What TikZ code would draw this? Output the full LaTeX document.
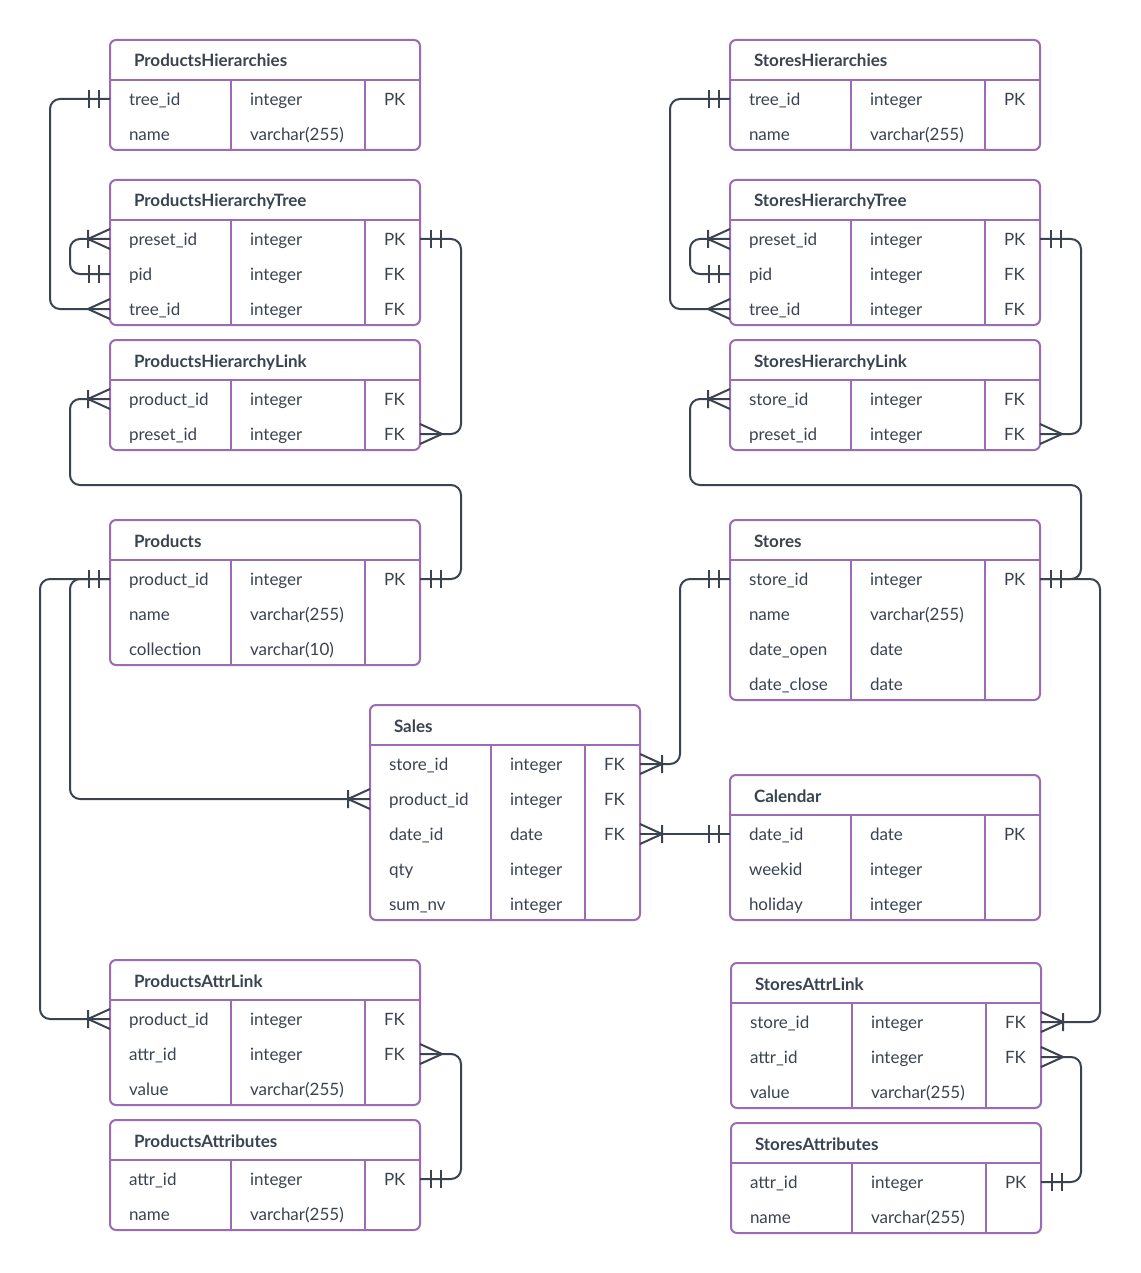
\documentclass[tikz,border=0pt]{standalone}
\usepackage{fontspec}
\setmainfont{Lato}
\definecolor{erpurple}{HTML}{9B6BB4}
\definecolor{erline}{HTML}{3A4350}
\definecolor{ertext}{HTML}{3A4350}
\tikzset{
  tbl/.style={draw=erpurple, line width=2pt, rounded corners=6pt, inner sep=0pt, outer sep=0pt, fill=white},
  tblline/.style={draw=erpurple, line width=2pt},
  rowbox/.style={inner sep=0pt, outer sep=0pt, minimum height=35pt},
  cell/.style={inner sep=0pt, outer sep=0pt, text=ertext, font=\fontsize{17}{20}\selectfont, anchor=base west},
  ttl/.style={cell, font=\fontsize{17}{20}\selectfont\bfseries},
  conn/.style={draw=erline, line width=2pt, rounded corners=10pt},
  erm/.style={draw=erline, line width=2pt},
  pics/erone/.style={code={\draw[erm] (-11,-9) -- (-11,9) (-21,-9) -- (-21,9);}},
  pics/ermany/.style={code={\draw[erm] (0,-10) -- (-22,0) -- (0,10);}},
  pics/eronemany/.style={code={\draw[erm] (0,-10) -- (-22,0) -- (0,10) (-22,-9) -- (-22,9);}},
}
\newcommand\ertable[8]{%
  \node[tbl, anchor=north west, minimum width=#4pt, minimum height={40pt+35pt*#6}] (#1) at (#2,#3) {};
  \draw[tblline] ([yshift=-40pt]#1.north west) -- ([yshift=-40pt]#1.north east);
  \draw[tblline] ([xshift=121pt,yshift=-40pt]#1.north west) -- ([xshift=121pt]#1.south west);
  \draw[tblline] ([xshift=#5pt,yshift=-40pt]#1.north west) -- ([xshift=#5pt]#1.south west);
  \node[ttl] (#1-title) at ([xshift=24pt,yshift=-27pt]#1.north west) {#7};
  \foreach \cn/\ct/\ck [count=\ci] in {#8}{%
    \node[rowbox, minimum width=#4pt, anchor=north west] (#1-\ci) at ([yshift={-41.5pt-35pt*(\ci-1)}]#1.north west) {};
    \node[cell] (#1-\ci-n) at ([xshift=19pt,yshift=-6.5pt]#1-\ci.west) {\cn};
    \node[cell] (#1-\ci-t) at ([xshift=140pt,yshift=-6.5pt]#1-\ci.west) {\ct};
    \node[cell] (#1-\ci-k) at ([xshift={#5pt+19pt},yshift=-6.5pt]#1-\ci.west) {\ck};
  }%
}
\begin{document}
\begin{tikzpicture}[x=1pt,y=-1pt]
\useasboundingbox (0,0) rectangle (1140,1273);
% tables
\ertable{PH}{110}{40}{310}{255}{2}{ProductsHierarchies}{tree\_id/integer/PK, name/varchar(255)/}
\ertable{PHT}{110}{180}{310}{255}{3}{ProductsHierarchyTree}{preset\_id/integer/PK, pid/integer/FK, tree\_id/integer/FK}
\ertable{PHL}{110}{340}{310}{255}{2}{ProductsHierarchyLink}{product\_id/integer/FK, preset\_id/integer/FK}
\ertable{P}{110}{520}{310}{255}{3}{Products}{product\_id/integer/PK, name/varchar(255)/, collection/varchar(10)/}
\ertable{S}{370}{705}{270}{215}{5}{Sales}{store\_id/integer/FK, product\_id/integer/FK, date\_id/date/FK, qty/integer/, sum\_nv/integer/}
\ertable{PAL}{110}{960}{310}{255}{3}{ProductsAttrLink}{product\_id/integer/FK, attr\_id/integer/FK, value/varchar(255)/}
\ertable{PA}{110}{1120}{310}{255}{2}{ProductsAttributes}{attr\_id/integer/PK, name/varchar(255)/}
\ertable{SH}{730}{40}{310}{255}{2}{StoresHierarchies}{tree\_id/integer/PK, name/varchar(255)/}
\ertable{SHT}{730}{180}{310}{255}{3}{StoresHierarchyTree}{preset\_id/integer/PK, pid/integer/FK, tree\_id/integer/FK}
\ertable{SHL}{730}{340}{310}{255}{2}{StoresHierarchyLink}{store\_id/integer/FK, preset\_id/integer/FK}
\ertable{St}{730}{520}{310}{255}{4}{Stores}{store\_id/integer/PK, name/varchar(255)/, date\_open/date/, date\_close/date/}
\ertable{C}{730}{775}{310}{255}{3}{Calendar}{date\_id/date/PK, weekid/integer/, holiday/integer/}
\ertable{SAL}{731}{963}{310}{255}{3}{StoresAttrLink}{store\_id/integer/FK, attr\_id/integer/FK, value/varchar(255)/}
\ertable{SA}{731}{1123}{310}{255}{2}{StoresAttributes}{attr\_id/integer/PK, name/varchar(255)/}
% connectors, products side
\draw[conn] (PH-1.west) -- ++(-60,0) |- (PHT-3.west);
\pic at (PH-1.west) {erone};
\pic at (PHT-3.west) {ermany};
\draw[conn] (PHT-1.west) -- ++(-40,0) |- (PHT-2.west);
\pic at (PHT-1.west) {eronemany};
\pic at (PHT-2.west) {erone};
\draw[conn] (PHT-1.east) -- ++(41,0) |- (PHL-2.east);
\pic[rotate=180] at (PHT-1.east) {erone};
\pic[rotate=180] at (PHL-2.east) {ermany};
\draw[conn] (PHL-1.west) -- ++(-40,0) -- ++(0,86) -- ++(391,0) |- (P-1.east);
\pic at (PHL-1.west) {eronemany};
\pic[rotate=180] at (P-1.east) {erone};
\draw[conn] (P-1.west) -- ++(-40,0) |- (S-2.west);
\draw[conn] (P-1.west) -- ++(-70,0) |- (PAL-1.west);
\pic at (P-1.west) {erone};
\pic at (S-2.west) {eronemany};
\pic at (PAL-1.west) {eronemany};
\draw[conn] (PAL-2.east) -- ++(41,0) |- (PA-1.east);
\pic[rotate=180] at (PAL-2.east) {ermany};
\pic[rotate=180] at (PA-1.east) {erone};
% connectors, stores side
\draw[conn] (SH-1.west) -- ++(-60,0) |- (SHT-3.west);
\pic at (SH-1.west) {erone};
\pic at (SHT-3.west) {ermany};
\draw[conn] (SHT-1.west) -- ++(-40,0) |- (SHT-2.west);
\pic at (SHT-1.west) {eronemany};
\pic at (SHT-2.west) {erone};
\draw[conn] (SHT-1.east) -- ++(41,0) |- (SHL-2.east);
\pic[rotate=180] at (SHT-1.east) {erone};
\pic[rotate=180] at (SHL-2.east) {ermany};
\draw[conn] (SHL-1.west) -- ++(-40,0) -- ++(0,86) -- ++(391,0) |- (St-1.east);
\pic at (SHL-1.west) {eronemany};
\pic[rotate=180] at (St-1.east) {erone};
\draw[conn] (St-1.west) -- ++(-50,0) |- (S-1.east);
\pic at (St-1.west) {erone};
\pic[rotate=180] at (S-1.east) {eronemany};
\draw[conn] (St-1.east) -- ++(60,0) |- (SAL-1.east);
\pic[rotate=180] at (SAL-1.east) {eronemany};
\draw[conn] (S-3.east) -- (C-1.west);
\pic[rotate=180] at (S-3.east) {eronemany};
\pic at (C-1.west) {erone};
\draw[conn] (SAL-2.east) -- ++(40,0) |- (SA-1.east);
\pic[rotate=180] at (SAL-2.east) {ermany};
\pic[rotate=180] at (SA-1.east) {erone};
\end{tikzpicture}
\end{document}
